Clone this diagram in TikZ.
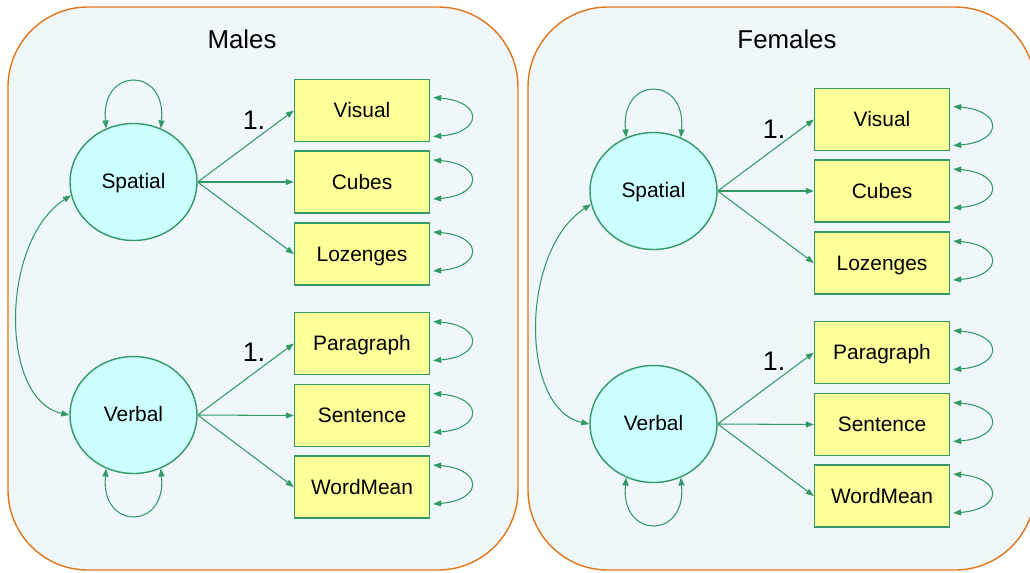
\documentclass[tikz,border=0pt]{standalone}
\usepackage{fontspec}
\setmainfont{Liberation Sans}
\usetikzlibrary{arrows.meta,shapes.geometric}

\definecolor{pathgreen}{RGB}{51,153,102}
\definecolor{latentfill}{RGB}{204,255,255}
\definecolor{boxfill}{RGB}{255,255,153}
\definecolor{panelline}{RGB}{224,118,26}
\definecolor{panelfill}{RGB}{239,247,251}

\begin{document}
\begin{tikzpicture}[x=0.02cm, y=-0.02cm,
    latent/.style={ellipse, draw=pathgreen, line width=0.8pt, fill=latentfill,
        minimum width=2.54cm, minimum height=2.34cm, inner sep=0pt,
        text height=1.7ex, text depth=0.3ex, font=\fontsize{11.9}{14}\selectfont},
    observed/.style={rectangle, draw=pathgreen, line width=0.8pt, fill=boxfill,
        minimum width=2.7cm, minimum height=1.24cm, inner sep=0pt,
        text height=1.8ex, text depth=0.2ex, font=\fontsize{11.9}{14}\selectfont},
    loading/.style={draw=pathgreen, line width=0.6pt,
        -{Triangle[length=0.16cm,width=0.12cm]}},
    covar/.style={draw=pathgreen, line width=0.6pt,
        {Triangle[length=0.16cm,width=0.12cm]}-{Triangle[length=0.16cm,width=0.12cm]}},
    panel/.style={draw=panelline, line width=0.8pt, fill=panelfill, rounded corners=1.6cm},
    fixedone/.style={font=\fontsize{15.3}{18}\selectfont},
    grouptitle/.style={font=\fontsize{14.7}{18}\selectfont}]

\useasboundingbox (0,0) rectangle (1030,572);

% group panels
\draw[panel] (8,7) rectangle (518,570);
\draw[panel] (528,7) rectangle (1035,570);
\node[grouptitle] (males) at (242,39) {Males};
\node[grouptitle] (females) at (787,39) {Females};

\foreach \g/\dx/\dy in {m/0/0, f/520/9} {
\begin{scope}[shift={(\dx,\dy)}]
    \node[latent] (spatial\g) at (133.5,182) {Spatial};
    \node[latent] (verbal\g) at (133.5,415) {Verbal};

    \node[observed] (visual\g) at (362,110.5) {Visual};
    \node[observed] (cubes\g) at (362,182) {Cubes};
    \node[observed] (lozenges\g) at (362,254) {Lozenges};
    \node[observed] (paragraph\g) at (362,343.5) {Paragraph};
    \node[observed] (sentence\g) at (362,415.5) {Sentence};
    \node[observed] (wordmean\g) at (362,487) {WordMean};

    \node[fixedone] (onesp\g) at (254,120) {1.};
    \node[fixedone] (onevb\g) at (254,352.5) {1.};

    % factor loadings
    \foreach \b in {visual,cubes,lozenges}
        \draw[loading] (spatial\g.east) -- (\b\g.west);
    \foreach \b in {paragraph,sentence,wordmean}
        \draw[loading] (verbal\g.east) -- (\b\g.west);

    % variances and covariance
    \draw[covar] (spatial\g.117) .. controls +(-6,-62) and +(6,-62) .. (spatial\g.63);
    \draw[covar] (verbal\g.-117) .. controls +(-6,62) and +(6,62) .. (verbal\g.-63);
    \draw[covar] (spatial\g.192) .. controls +(-71,46) and +(-70,-15) .. (verbal\g.west);

    \foreach \b/\u/\l in {visual/-13/26, cubes/-22/17, lozenges/-22/17,
                          paragraph/-22/17, sentence/-22/17, wordmean/-22/17}
        \draw[covar] ([shift={(3,\u)}]\b\g.east) .. controls +(50,4) and +(50,-4)
            .. ([shift={(3,\l)}]\b\g.east);
\end{scope}
}
\end{tikzpicture}
\end{document}
